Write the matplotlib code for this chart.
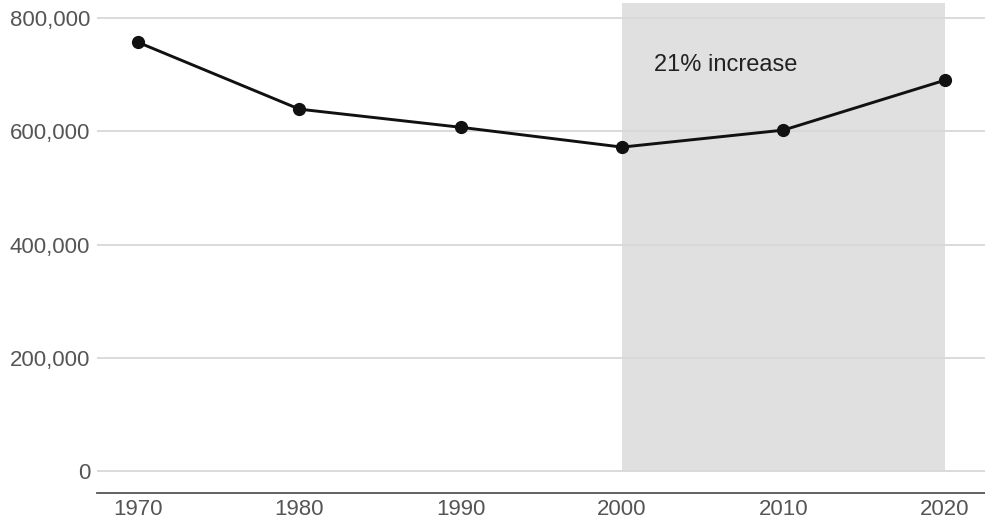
import numpy as np
import matplotlib
matplotlib.use('Agg')
import matplotlib.pyplot as plt

plt.rcParams['font.family'] = ['Liberation Sans', 'DejaVu Sans']

years = [1970, 1980, 1990, 2000, 2010, 2020]
values = [757000, 639000, 607000, 572000, 602000, 690000]
yticks = [0, 200000, 400000, 600000, 800000]
ytick_labels = ['0', '200,000', '400,000', '600,000', '800,000']
shade_start, shade_end = 2000, 2020
note = '21% increase'

fig = plt.figure(figsize=(9.85, 5.23), dpi=100)
ax = fig.add_axes([97/985, 1 - 493/523, 888/985, 493/523])

ax.fill_between([shade_start, shade_end], 0, 826000, color='#e0e0e0', zorder=0, linewidth=0)
for t in yticks:
    ax.axhline(t, color='#d8d8d8', lw=1.3, zorder=1)
ax.plot(years, values, color='#111111', lw=2.1, marker='o', ms=8.5, zorder=3)
ax.text(2002.0, 717000, note, fontsize=17, color='#222222', va='center', ha='left')

ax.set_xlim(1967.45, 2022.5)
ax.set_ylim(-38850, 831800)
ax.set_yticks(yticks)
ax.set_yticklabels(ytick_labels)
ax.set_xticks(years)
ax.tick_params(axis='both', length=0, labelsize=16, labelcolor='#555555')
ax.tick_params(axis='y', pad=5)
ax.tick_params(axis='x', pad=4)
for s in ['top', 'right', 'left']:
    ax.spines[s].set_visible(False)
ax.spines['bottom'].set_color('#555555')
ax.spines['bottom'].set_linewidth(1.3)

fig.savefig('out.png', dpi=100)
